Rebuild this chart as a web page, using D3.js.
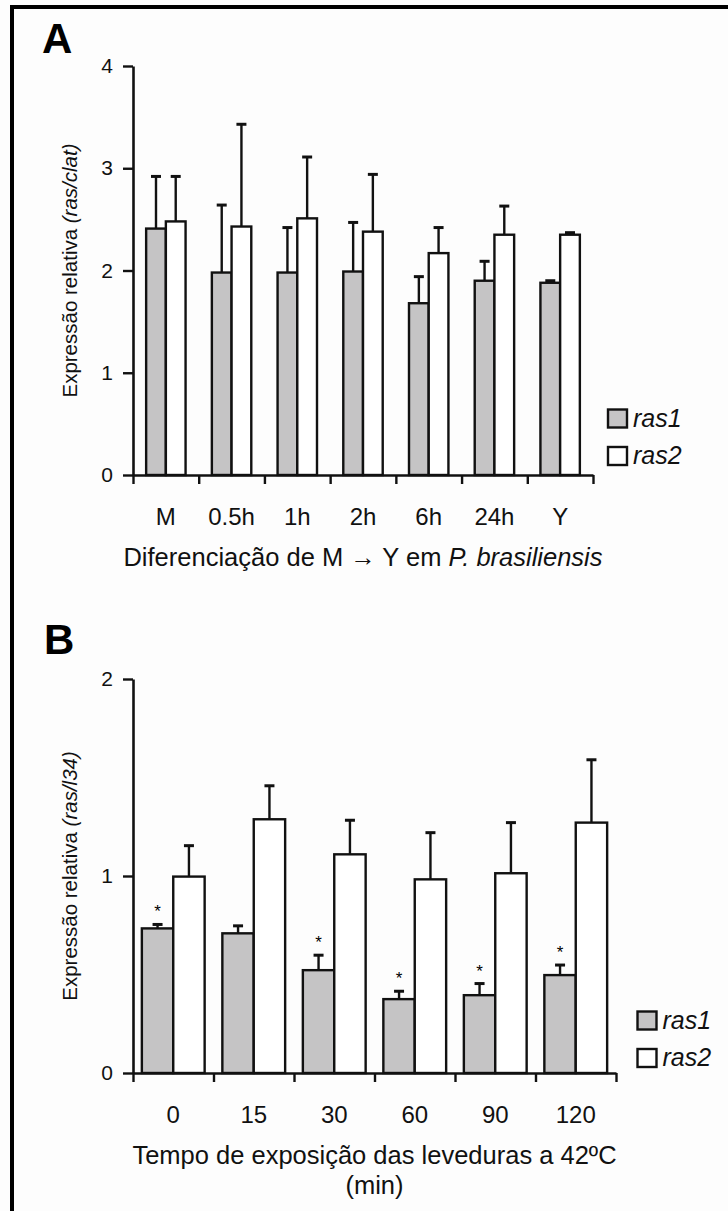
<!DOCTYPE html>
<html>
<head>
<meta charset="utf-8">
<script src="https://cdn.jsdelivr.net/npm/d3@7"></script>
<style>
  body { margin: 0; background: #fdfdfd; }
  svg { display: block; font-family: "Liberation Sans", Arial, sans-serif; }
</style>
</head>
<body>
<div id="chart"></div>
<script>
// Panel A - differentiation M -> Y
const catsA = ['M', '0.5h', '1h', '2h', '6h', '24h', 'Y'];
const ras1A = [2.41, 1.98, 1.98, 1.99, 1.68, 1.90, 1.88];
const ras1ErrA = [0.51, 0.66, 0.44, 0.48, 0.26, 0.19, 0.02];
const ras2A = [2.48, 2.43, 2.51, 2.38, 2.17, 2.35, 2.35];
const ras2ErrA = [0.44, 1.00, 0.60, 0.56, 0.25, 0.28, 0.02];
const ticksA = [0, 1, 2, 3, 4];

// Panel B - heat shock at 42ºC
const catsB = ['0', '15', '30', '60', '90', '120'];
const ras1B = [0.734, 0.709, 0.522, 0.375, 0.395, 0.497];
const ras1ErrB = [0.020, 0.038, 0.076, 0.040, 0.059, 0.051];
const ras2B = [0.997, 1.288, 1.110, 0.983, 1.014, 1.271];
const ras2ErrB = [0.157, 0.170, 0.173, 0.237, 0.257, 0.319];
const starsB = [true, false, true, true, true, true];
const ticksB = [0, 1, 2];

const seriesNames = ['ras1', 'ras2'];
const fills = ['#c5c4c5', '#ffffff'];

const W = 728, H = 1211;
const svg = d3.select('#chart').append('svg')
    .attr('width', W).attr('height', H);

svg.append('rect').attr('width', W).attr('height', H).attr('fill', '#fdfdfd');

// frame
svg.append('rect')
    .attr('x', 12).attr('y', 7)
    .attr('width', 740).attr('height', 1230)
    .attr('fill', 'none').attr('stroke', '#000').attr('stroke-width', 4);

function drawPanel(opt) {
    const g = svg.append('g');
    const n = opt.cats.length;

    const y = d3.scaleLinear().domain([0, opt.ymax]).range([opt.y0, opt.y1]);
    const xb = d3.scaleBand().domain(opt.cats).range([opt.x0, opt.x1]);
    const xs = d3.scaleBand().domain(seriesNames).range([0, xb.bandwidth() * opt.pairFrac]);
    const pairOff = (xb.bandwidth() - xs.range()[1]) / 2;
    const xEdges = d3.scaleLinear().domain([0, n]).range([opt.x0, opt.x1]);

    // panel letter
    g.append('text').attr('x', opt.letterX).attr('y', opt.letterY)
        .attr('font-size', 42).attr('font-weight', 'bold').text(opt.letter);

    const rows = opt.cats.map((c, i) => ({
        cat: c, i,
        vals: [
            { s: 'ras1', v: opt.ras1[i], e: opt.ras1Err[i], fill: fills[0] },
            { s: 'ras2', v: opt.ras2[i], e: opt.ras2Err[i], fill: fills[1] }
        ]
    }));

    const groups = g.selectAll('g.cat').data(rows).join('g')
        .attr('class', 'cat')
        .attr('transform', d => `translate(${xb(d.cat) + pairOff},0)`);

    // error bars (upper half only)
    groups.selectAll('g.err').data(d => d.vals).join('g').attr('class', 'err')
        .each(function(d) {
            const cx = xs(d.s) + xs.bandwidth() / 2;
            const sel = d3.select(this);
            sel.append('line').attr('x1', cx).attr('x2', cx)
                .attr('y1', y(d.v)).attr('y2', y(d.v + d.e))
                .attr('stroke', '#111').attr('stroke-width', 2.4);
            sel.append('line').attr('x1', cx - 5).attr('x2', cx + 5)
                .attr('y1', y(d.v + d.e)).attr('y2', y(d.v + d.e))
                .attr('stroke', '#111').attr('stroke-width', 3);
        });

    groups.selectAll('rect').data(d => d.vals).join('rect')
        .attr('x', d => xs(d.s))
        .attr('y', d => y(d.v))
        .attr('width', xs.bandwidth())
        .attr('height', d => y(0) - y(d.v))
        .attr('fill', d => d.fill)
        .attr('stroke', '#111').attr('stroke-width', 2.4);

    if (opt.stars) {
        groups.filter(d => opt.stars[d.i]).append('text')
            .attr('x', xs('ras1') + xs.bandwidth() / 2)
            .attr('y', d => y(d.vals[0].v + d.vals[0].e) - 7)
            .attr('text-anchor', 'middle').attr('font-size', 17)
            .text('*');
    }

    // y axis
    const yAxis = g.append('g').attr('transform', `translate(${opt.x0},0)`)
        .call(d3.axisLeft(y).tickValues(opt.ticks).tickFormat(d3.format('d'))
            .tickSize(10).tickSizeOuter(0).tickPadding(10));
    yAxis.select('.domain').attr('stroke', '#111').attr('stroke-width', 2.6);
    yAxis.selectAll('.tick line').attr('stroke', '#111').attr('stroke-width', 2.4);
    yAxis.selectAll('.tick text').attr('font-size', 21).attr('fill', '#111')
        .attr('font-family', '"Liberation Sans", Arial, sans-serif');

    // x axis with ticks on category boundaries
    const xAxis = g.append('g').attr('transform', `translate(0,${opt.y0})`)
        .call(d3.axisBottom(xEdges).tickValues(d3.range(n + 1)).tickFormat('')
            .tickSize(9).tickSizeOuter(0));
    xAxis.select('.domain').attr('stroke', '#111').attr('stroke-width', 2.6);
    xAxis.selectAll('.tick line').attr('stroke', '#111').attr('stroke-width', 2.4);

    g.selectAll('text.xlab').data(opt.cats).join('text')
        .attr('class', 'xlab')
        .attr('x', d => xb(d) + xb.bandwidth() / 2)
        .attr('y', opt.y0 + 50)
        .attr('text-anchor', 'middle').attr('font-size', 24).attr('fill', '#111')
        .text(d => d);

    // x title
    const xc = (opt.x0 + opt.x1) / 2;
    opt.xTitle(g.append('text').attr('x', xc).attr('y', opt.y0 + 91)
        .attr('text-anchor', 'middle').attr('font-size', 25.5).attr('fill', '#111'));
    if (opt.xTitle2) {
        g.append('text').attr('x', xc).attr('y', opt.y0 + 121)
            .attr('text-anchor', 'middle').attr('font-size', 25.5).attr('fill', '#111')
            .text(opt.xTitle2);
    }

    // y title
    const yt = g.append('text')
        .attr('transform', `translate(77,${(opt.y0 + opt.y1) / 2}) rotate(-90)`)
        .attr('text-anchor', 'middle').attr('font-size', 20.5).attr('fill', '#111');
    yt.append('tspan').text('Expressão relativa ');
    yt.append('tspan').attr('font-style', 'italic').text(opt.yItalic);

    // legend
    const leg = g.selectAll('g.leg').data(seriesNames).join('g').attr('class', 'leg')
        .attr('transform', (d, i) => `translate(${opt.legX},${opt.legY + i * 37.5})`);
    leg.append('rect').attr('width', 19).attr('height', 18)
        .attr('fill', (d, i) => fills[i]).attr('stroke', '#111').attr('stroke-width', 2.4);
    leg.append('text').attr('x', 25).attr('y', 17)
        .attr('font-size', 25).attr('font-style', 'italic').attr('fill', '#111')
        .text(d => d);
}

drawPanel({
    letter: 'A', letterX: 42, letterY: 53,
    cats: catsA, ras1: ras1A, ras1Err: ras1ErrA, ras2: ras2A, ras2Err: ras2ErrA,
    ticks: ticksA, ymax: 4,
    x0: 133, x1: 593, y0: 475, y1: 66, pairFrac: 0.6,
    yItalic: '(ras/clat)',
    xTitle: t => {
        t.append('tspan').text('Diferenciação de M \u2192 Y em ');
        t.append('tspan').attr('font-style', 'italic').text('P. brasiliensis');
    },
    legX: 608, legY: 409.5
});

drawPanel({
    letter: 'B', letterX: 44, letterY: 654,
    cats: catsB, ras1: ras1B, ras1Err: ras1ErrB, ras2: ras2B, ras2Err: ras2ErrB,
    stars: starsB,
    ticks: ticksB, ymax: 2,
    x0: 133, x1: 616, y0: 1073, y1: 679, pairFrac: 0.78,
    yItalic: '(ras/l34)',
    xTitle: t => t.text('Tempo de exposição das leveduras a 42ºC'),
    xTitle2: '(min)',
    legX: 637.5, legY: 1011.5
});
</script>
</body>
</html>
